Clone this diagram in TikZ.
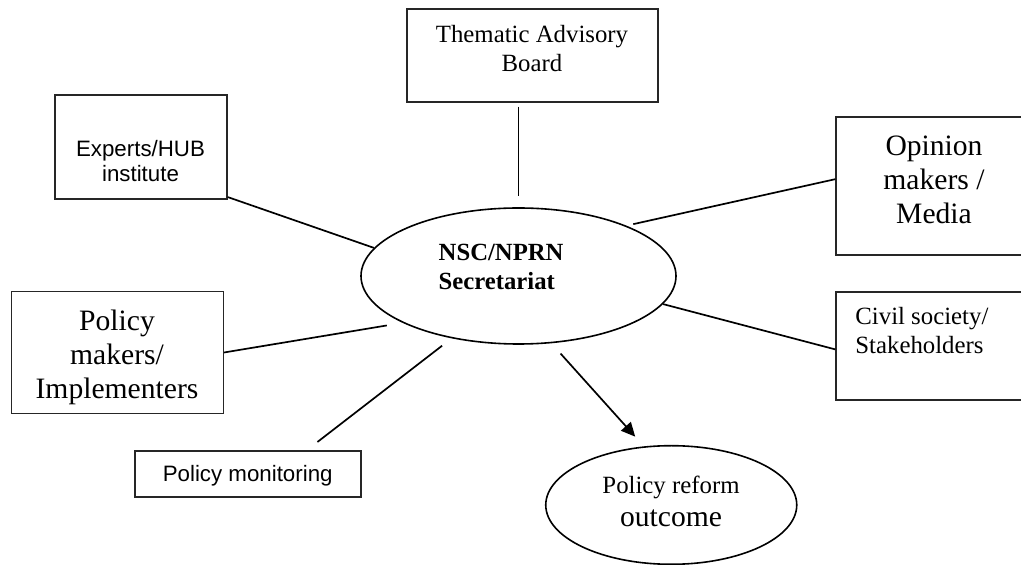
\documentclass[tikz,border=0pt]{standalone}
\usepackage{fontspec}
\setmainfont{Liberation Serif}
\newfontfamily\arialfont{Liberation Sans}
\usetikzlibrary{shapes.geometric, arrows.meta}

\begin{document}
\begin{tikzpicture}[x=0.5pt, y=-0.5pt,
        box/.style={rectangle, draw=black!85, line width=0.7pt, inner sep=0pt},
        oval/.style={ellipse, draw=black, line width=0.8pt, inner sep=0pt},
        txt/.style={inner sep=0pt, align=center, font=\fontsize{12.4}{14.5}\selectfont},
        bigtxt/.style={inner sep=0pt, align=center, font=\fontsize{14.8}{17}\selectfont},
        sanstxt/.style={inner sep=0pt, align=center, font=\arialfont\fontsize{11.15}{12.5}\selectfont},
        link/.style={draw=black, line width=0.85pt}]

      % 1. Page frame (right-hand boxes run off the edge)
      \useasboundingbox (0,0) rectangle (1021,565);
      \clip (0,0) rectangle (1021,565);

      % 2. Secretariat and outcome ovals
      \node [oval, minimum width=157.5pt, minimum height=68pt] (main) at (518.5,276) {};
      \node [txt, align=left, anchor=west, font=\bfseries\fontsize{12.35}{14.6}\selectfont] (main-text) at (438.3,267) {NSC/NPRN\\Secretariat};

      \node [oval, minimum width=125.5pt, minimum height=59.3pt] (outcome) at (671.25,505) {};
      \node [bigtxt, font=\fontsize{14.8}{16.7}\selectfont] (outcome-text) at (671,501.5) {{\fontsize{12.4}{14.5}\selectfont Policy reform}\\outcome};

      % 3. Partner boxes
      \node [box, minimum width=125.5pt, minimum height=46.5pt] (thematic) at (532.5,55.5) {};
      \node [txt] (thematic-text) at (532,49) {Thematic Advisory\\Board};

      \node [box, minimum width=86pt, minimum height=52pt] (experts) at (141,147) {};
      \node [sanstxt] (experts-text) at (140.5,161) {Experts/HUB\\institute};

      \node [box, minimum width=97pt, minimum height=69pt] (opinion) at (933,186) {};
      \node [bigtxt] (opinion-text) at (934,180) {Opinion\\makers /\\Media};

      \node [box, minimum width=105.8pt, minimum height=60.8pt] (policy) at (117.5,352.5) {};
      \node [bigtxt] (policy-text) at (117,357.3) {Policy\\makers/\\Implementers};

      \node [box, minimum width=97pt, minimum height=54pt] (civil) at (933,346) {};
      \node [txt, align=left, anchor=west, font=\fontsize{12.4}{14.2}\selectfont] (civil-text) at (855,330.7) {Civil society/\\Stakeholders};

      \node [box, minimum width=113pt, minimum height=23pt] (monitor) at (248,474) {};
      \node [sanstxt] (monitor-text) at (247.7,476) {Policy monitoring};

      % 4. Connections
      \draw [link, shorten <=2pt, shorten >=5.8pt] (thematic.south -| main.north) -- (main.north);
      \draw [link] (experts.-30) -- (main.169);
      \draw [link, shorten <=3.5pt] (main.25) -- (opinion.176);
      \draw [link, shorten >=8pt] (policy.east) -- (main.202);
      \draw [link, shorten <=6.8pt, shorten >=6pt] (monitor.22) -- (main.223);
      \draw [link] (main.-11) -- (civil.182);
      \draw [link, -{Triangle[length=7pt, width=6.5pt]}, shorten <=6.9pt, shorten >=6.5pt] (main.-64) -- (outcome.115);
    \end{tikzpicture}
\end{document}
